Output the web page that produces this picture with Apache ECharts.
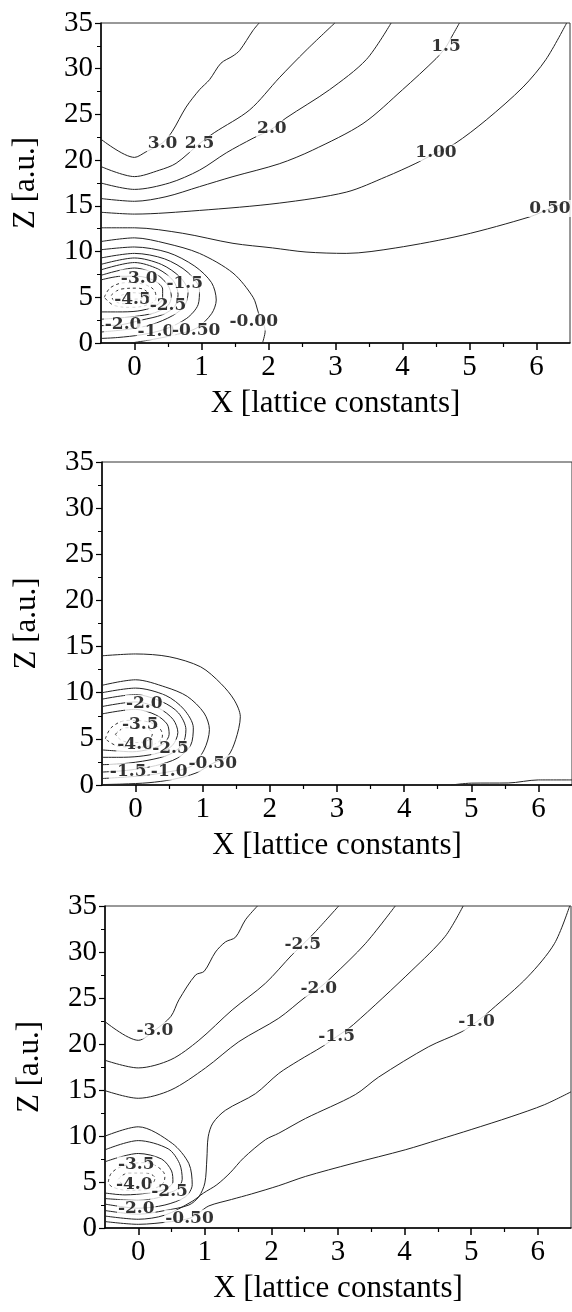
<!DOCTYPE html>
<html>
<head>
<meta charset="utf-8">
<script src="https://cdn.jsdelivr.net/npm/echarts@6/dist/echarts.min.js"></script>
<style>
html,body{margin:0;padding:0;background:#fff;}
#chart{width:572px;height:1312px;}
</style>
</head>
<body>
<div id="chart"></div>
<script>
// tick values
var xTicks = [0, 1, 2, 3, 4, 5, 6];
var xHalfTicks = [0.5, 1.5, 2.5, 3.5, 4.5, 5.5];

// ---- panel 1 contours [X, Z]
var p1_c30 = [[-0.52,22.4],[0,20.3],[0.17,20.9],[0.42,21.9],[0.56,23.1],[0.77,25.8],[0.97,27.7],[1.12,28.8],[1.29,30.6],[1.47,31.4],[1.57,32.0],[1.77,34.2],[1.86,35]];
var p1_c25 = [[-0.5,19.3],[0,18.2],[0.37,18.9],[0.62,19.65],[0.97,21.8],[1.19,23.0],[1.72,25.5],[2.16,29.0],[2.56,32.0],[2.99,35]];
var p1_c20 = [[-0.5,17.5],[0,16.8],[0.52,17.5],[0.97,18.9],[1.37,20.8],[1.77,22.4],[2.05,23.4],[2.26,24.6],[2.91,27.7],[3.46,31.0],[3.83,35]];
var p1_c15 = [[-0.5,15.8],[0,15.5],[0.47,16.0],[0.97,17.1],[1.47,18.2],[2.16,19.6],[2.66,21.1],[3.41,24.0],[4.0,27.7],[4.5,31.1],[4.65,32.4],[4.75,33.7],[4.85,35]];
var p1_c10 = [[-0.5,14.3],[0,14.1],[0.97,14.5],[2.16,15.3],[3.16,16.5],[3.76,18.2],[4.2,19.65],[4.5,20.8],[4.78,21.8],[5.25,24.4],[5.8,28.0],[6.14,31.0],[6.45,35]];
var p1_c05 = [[-0.5,12.6],[0,12.6],[0.72,12.0],[1.47,10.9],[2.06,10.4],[2.56,9.95],[3.16,9.8],[3.9,10.4],[4.9,11.8],[5.9,13.8],[6.2,14.7],[6.5,15.5]];
var p1_c00 = [[-0.5,11.1],[0,11.5],[0.47,10.9],[0.97,9.8],[1.47,7.65],[1.77,5.0],[1.85,3.3],[1.95,1.3],[1.91,0]];
var p1_m05 = [[-0.5,10.2],[0,10.5],[0.5,9.9],[0.9,8.4],[1.15,6.6],[1.22,4.7],[1.15,3.2],[0.92,1.6],[0.55,0.8],[0.2,0.3],[-0.05,0]];
var p1_m10 = [[-0.5,9.3],[0,9.8],[0.45,9.2],[0.8,7.7],[0.97,5.8],[0.95,4.2],[0.78,2.7],[0.45,1.5],[0.1,0.9],[-0.25,0.6],[-0.5,0.5]];
var p1_m15 = [[-0.5,8.6],[0,9.3],[0.4,8.6],[0.68,7.2],[0.8,5.6],[0.75,4.1],[0.57,3.0],[0.25,2.0],[-0.1,1.5],[-0.5,1.2]];
var p1_m20 = [[-0.5,8.0],[0,8.8],[0.35,8.1],[0.58,6.8],[0.65,5.3],[0.6,4.0],[0.42,3.1],[0.1,2.5],[-0.2,2.0],[-0.5,1.9]];
var p1_m25 = [[-0.5,7.4],[0,8.2],[0.33,7.5],[0.5,6.3],[0.55,5.1],[0.5,4.1],[0.3,3.3],[0,2.9],[-0.3,2.7],[-0.5,2.6]];
var p1_m30 = [[-0.5,6.9],[-0.2,7.3],[0.05,7.3],[0.3,6.8],[0.42,5.9],[0.42,4.9],[0.3,4.0],[0.05,3.5],[-0.25,3.4],[-0.5,3.4]];
var p1_m35 = [[-0.45,5.0],[-0.35,6.1],[-0.1,6.6],[0.15,6.4],[0.3,5.7],[0.32,4.9],[0.2,4.2],[-0.05,3.9],[-0.3,4.1],[-0.45,5.0]];
var p1_m40 = [[-0.35,5.2],[-0.2,5.9],[0.05,6.0],[0.2,5.5],[0.22,4.8],[0.08,4.4],[-0.15,4.3],[-0.3,4.6],[-0.35,5.2]];
var p1_m45 = [[-0.2,5.2],[-0.05,5.5],[0.1,5.4],[0.12,5.0],[0,4.8],[-0.15,4.9],[-0.2,5.2]];
var p1_labels = [[0.42,21.8,'3.0'],[0.97,21.8,'2.5'],[2.05,23.4,'2.0'],[4.65,32.4,'1.5'],[4.5,20.8,'1.00'],[6.2,14.7,'0.50'],[1.78,2.3,'-0.00'],[0.07,7.1,'-3.0'],[0.75,6.45,'-1.5'],[-0.03,4.7,'-4.5'],[0.5,4.05,'-2.5'],[-0.17,2.0,'-2.0'],[0.32,1.2,'-1.0'],[0.92,1.4,'-0.50']];

// ---- panel 2 contours
var p2_m05 = [[-0.5,14.0],[0,14.2],[0.5,13.9],[0.97,12.8],[1.27,11.0],[1.47,9.2],[1.56,7.4],[1.49,4.9],[1.37,3.1],[1.15,2.35],[0.9,1.3],[0.55,0.6],[0.2,0.25],[-0.2,0.1],[-0.5,0.05]];
var p2_m05b = [[4.7,0],[5.0,0.2],[5.55,0.22],[6.0,0.55],[6.5,0.55]];
var p2_m10 = [[-0.5,10.8],[0,11.4],[0.45,10.6],[0.77,9.6],[1.02,7.8],[1.1,6.0],[1.02,3.8],[0.82,2.0],[0.5,1.44],[0.1,1.0],[-0.5,0.7]];
var p2_m15 = [[-0.5,10.0],[0,10.5],[0.45,9.7],[0.72,8.2],[0.86,6.2],[0.82,4.3],[0.62,2.9],[0.3,2.1],[-0.11,1.6],[-0.5,1.4]];
var p2_m20 = [[-0.5,9.3],[0,9.8],[0.4,9.0],[0.64,7.8],[0.75,6.0],[0.7,4.4],[0.5,3.3],[0.2,2.7],[-0.2,2.3],[-0.5,2.2]];
var p2_m25 = [[-0.5,8.5],[0,9.0],[0.35,8.3],[0.56,7.1],[0.63,5.7],[0.55,4.3],[0.35,3.5],[0.05,3.1],[-0.25,3.0],[-0.5,3.0]];
var p2_m30 = [[-0.5,7.7],[0,8.2],[0.3,7.6],[0.47,6.6],[0.5,5.5],[0.42,4.5],[0.22,3.9],[-0.05,3.6],[-0.3,3.7],[-0.5,3.8]];
var p2_m35 = [[-0.45,5.0],[-0.35,6.3],[-0.1,7.0],[0.15,6.9],[0.35,6.2],[0.4,5.3],[0.3,4.5],[0.05,4.1],[-0.25,4.2],[-0.45,5.0]];
var p2_m40 = [[-0.3,5.5],[-0.15,6.2],[0.1,6.2],[0.25,5.6],[0.2,4.9],[0,4.6],[-0.2,4.8],[-0.3,5.5]];
var p2_labels = [[0.13,8.85,'-2.0'],[0.07,6.5,'-3.5'],[0.0,4.33,'-4.0'],[0.52,3.97,'-2.5'],[-0.11,1.44,'-1.5'],[0.5,1.44,'-1.0'],[1.15,2.35,'-0.50']];

// ---- panel 3 contours
var p3_m30 = [[-0.53,22.6],[0,20.4],[0.25,21.5],[0.49,23.0],[0.61,24.8],[0.86,27.5],[0.99,27.9],[1.16,30.0],[1.31,31.1],[1.46,31.6],[1.61,33.5],[1.79,35]];
var p3_m25 = [[-0.53,18.3],[0,17.4],[0.49,18.3],[0.91,20.4],[1.41,23.7],[1.91,26.6],[2.31,29.7],[2.47,30.8],[2.66,32.2],[3.01,35]];
var p3_m20 = [[-0.53,15.0],[0,14.1],[0.49,15.0],[1.01,17.4],[1.51,20.25],[2.11,22.8],[2.51,25.1],[2.71,26.05],[2.91,27.3],[3.41,30.9],[3.86,35]];
var p3_m15 = [[-0.5,1.9],[0,1.5],[0.4,1.9],[0.76,2.5],[0.91,3.4],[1.0,4.9],[1.03,7.5],[1.05,9.9],[1.12,11.4],[1.31,12.8],[1.76,14.6],[2.11,16.8],[2.41,18.2],[2.76,19.7],[2.98,20.8],[3.23,22.1],[4.11,28.0],[4.61,31.7],[4.88,35]];
var p3_m10 = [[-0.5,1.3],[0,0.95],[0.4,1.4],[0.81,2.9],[0.98,3.8],[1.18,4.7],[1.38,6.0],[1.58,7.6],[1.91,9.6],[2.11,10.3],[2.51,11.9],[3.26,14.5],[3.61,16.4],[4.36,19.7],[4.85,21.3],[5.08,22.4],[5.3,23.7],[5.85,27.3],[6.25,30.9],[6.48,35]];
var p3_m05 = [[-0.5,0.7],[0,0.4],[0.5,0.7],[0.77,1.05],[0.9,1.6],[1.06,2.4],[1.4,3.1],[1.7,3.7],[2.11,4.6],[2.51,5.6],[3.21,7.0],[4.01,8.5],[4.51,9.6],[5.0,10.7],[5.6,12.1],[6.1,13.4],[6.5,14.8]];
var p3_b20 = [[-0.53,9.9],[0,11.0],[0.51,9.2],[0.76,7.0],[0.81,4.7],[0.71,3.4],[0.4,2.5],[0,2.15],[-0.5,2.6]];
var p3_b25 = [[-0.5,8.5],[0,9.5],[0.45,8.6],[0.62,7.0],[0.66,5.3],[0.58,4.2],[0.47,3.85],[0.3,3.3],[0,3.0],[-0.5,3.2]];
var p3_b30 = [[-0.5,7.2],[0,8.1],[0.35,7.5],[0.5,6.2],[0.52,5.0],[0.4,4.2],[0.15,3.8],[-0.2,3.6],[-0.5,3.8]];
var p3_b35 = [[-0.45,5.0],[-0.4,6.0],[-0.2,6.8],[0.1,7.1],[0.3,6.6],[0.4,5.6],[0.35,4.7],[0.15,4.2],[-0.15,4.1],[-0.4,4.5],[-0.45,5.0]];
var p3_b40 = [[-0.3,5.3],[-0.15,6.0],[0.1,6.0],[0.25,5.4],[0.2,4.8],[0,4.5],[-0.2,4.6],[-0.3,5.3]];
var p3_labels = [[0.25,21.5,'-3.0'],[2.47,30.8,'-2.5'],[2.71,26.05,'-2.0'],[2.98,20.8,'-1.5'],[5.08,22.4,'-1.0'],[-0.03,6.85,'-3.5'],[-0.06,4.67,'-4.0'],[0.47,3.95,'-2.5'],[-0.03,2.14,'-2.0'],[0.77,1.05,'-0.50']];

var panels = [
	{solid:[p1_c30,p1_c25,p1_c20,p1_c15,p1_c10,p1_c05,p1_c00,p1_m05,p1_m10,p1_m15,p1_m20,p1_m25,p1_m30], dashed:[p1_m35,p1_m40,p1_m45], labels:p1_labels},
	{solid:[p2_m05,p2_m05b,p2_m10,p2_m15,p2_m20,p2_m25,p2_m30], dashed:[p2_m35,p2_m40], labels:p2_labels},
	{solid:[p3_m30,p3_m25,p3_m20,p3_m15,p3_m10,p3_m05,p3_b20,p3_b25,p3_b30], dashed:[p3_b35,p3_b40], labels:p3_labels}
];
var grids = [
	{left:101, top:23, width:469, height:320},
	{left:102, top:462, width:470, height:323},
	{left:105, top:906, width:466, height:322}
];

var serif = 'Liberation Serif';
var option = {
	backgroundColor:'#fff',
	animation:false,
	grid:[],
	xAxis:[],
	yAxis:[],
	series:[]
};

for (var i = 0; i < 3; i++) {
	var g = grids[i];
	option.grid.push({left:g.left, top:g.top, width:g.width, height:g.height, show:true, borderColor:'#333', borderWidth:1, backgroundColor:'transparent'});
	option.xAxis.push({
		type:'value', gridIndex:i, position:'bottom', min:-0.5, max:6.5,
		name:'X [lattice constants]', nameLocation:'middle', nameGap:45,
		nameTextStyle:{fontFamily:serif, fontSize:31, color:'#000'},
		axisLine:{onZero:false, lineStyle:{color:'#000', width:1.5}},
		axisTick:{show:true, inside:false, length:7, customValues:xTicks, lineStyle:{color:'#000', width:1.5}},
		axisLabel:{customValues:xTicks, fontFamily:serif, fontSize:29, color:'#000', margin:10},
		splitLine:{show:false}
	});
	// half-unit ticks
	option.xAxis.push({
		type:'value', gridIndex:i, position:'bottom', min:-0.5, max:6.5,
		axisLine:{show:false, onZero:false},
		axisTick:{show:true, inside:false, length:4, customValues:xHalfTicks, lineStyle:{color:'#000', width:1.2}},
		axisLabel:{show:false},
		splitLine:{show:false}
	});
	option.yAxis.push({
		type:'value', gridIndex:i, position:'left', min:0, max:35, interval:5,
		name:'Z [a.u.]', nameLocation:'middle', nameGap:60, nameRotate:90,
		nameTextStyle:{fontFamily:serif, fontSize:31, color:'#000'},
		axisLine:{show:true, onZero:false, lineStyle:{color:'#000', width:1.5}},
		axisTick:{show:true, inside:false, length:6, lineStyle:{color:'#000', width:1.2}},
		minorTick:{show:true, splitNumber:2, length:4, lineStyle:{color:'#000', width:1}},
		axisLabel:{fontFamily:serif, fontSize:29, color:'#000', margin:8},
		splitLine:{show:false}
	});

	var p = panels[i];
	p.solid.forEach(function(d){
		option.series.push({type:'line', xAxisIndex:i*2, yAxisIndex:i, data:d, showSymbol:false, smooth:0.3,
			lineStyle:{color:'#222', width:1}, z:2, silent:true});
	});
	p.dashed.forEach(function(d){
		option.series.push({type:'line', xAxisIndex:i*2, yAxisIndex:i, data:d, showSymbol:false, smooth:0.4,
			lineStyle:{color:'#333', width:1, type:[3,3]}, z:2, silent:true});
	});
	option.series.push({
		type:'scatter', xAxisIndex:i*2, yAxisIndex:i, symbolSize:0, z:5, silent:true,
		data:p.labels.map(function(l){ return {value:[l[0], l[1]], name:l[2]}; }),
		label:{show:true, position:'inside', formatter:'{b}', fontFamily:'DejaVu Serif', fontWeight:'bold',
			fontSize:17, color:'#000', backgroundColor:'#fff', padding:[0,1]}
	});
}

var chart = echarts.init(document.getElementById('chart'));
chart.setOption(option);
</script>
</body>
</html>
